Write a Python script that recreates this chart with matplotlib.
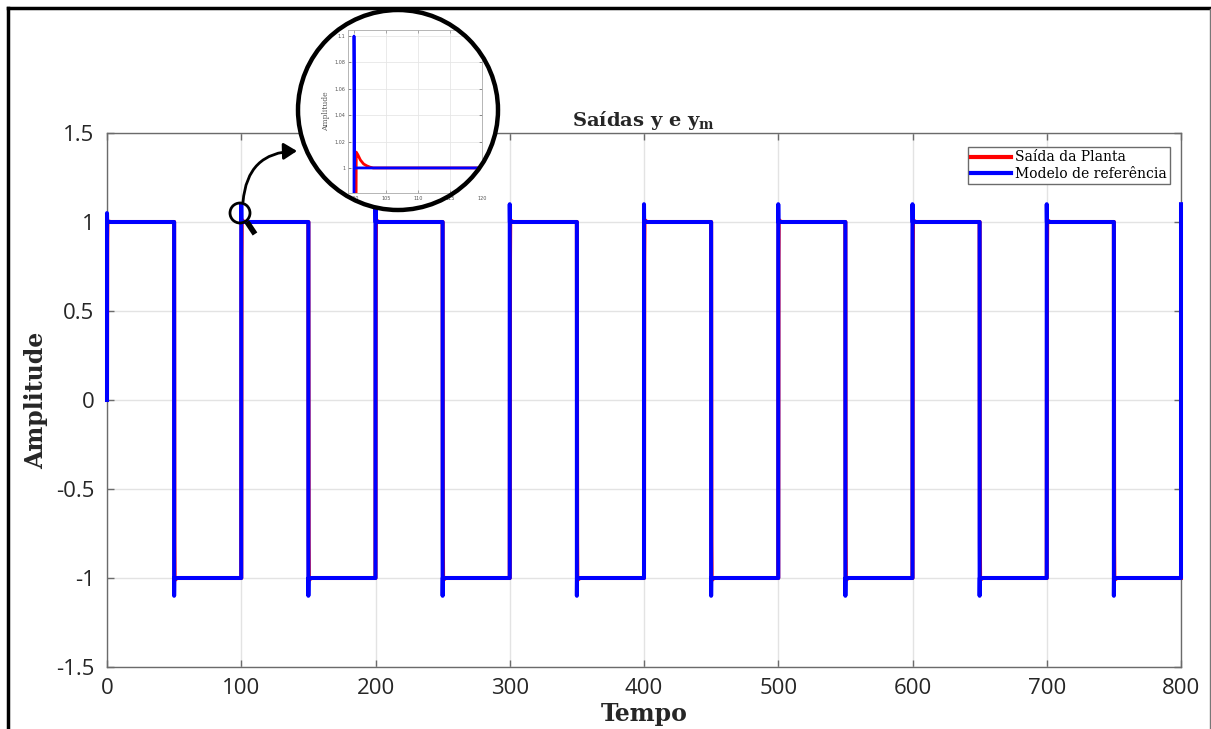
import numpy as np
import matplotlib
matplotlib.use("Agg")
import matplotlib.pyplot as plt
from matplotlib.patches import Ellipse, FancyArrowPatch
from matplotlib.lines import Line2D

# --- data -------------------------------------------------------------
# instants where the reference square wave switches, and the level after each switch
switch_times = [0, 50, 100, 150, 200, 250, 300, 350, 400, 450, 500, 550, 600, 650, 700, 750, 800]
levels = [1, -1, 1, -1, 1, -1, 1, -1, 1, -1, 1, -1, 1, -1, 1, -1, 1]
# reference-model peak reached right at each switch
model_peaks = [1.05, -1.1, 1.1, -1.1, 1.1, -1.1, 1.1, -1.1, 1.1, -1.1, 1.1, -1.1, 1.1, -1.1, 1.1, -1.1, 1.1]
initial_value = 0.0
model_settle_dt = 0.1

# plant output after a switch: time offset and fraction of the step covered
plant_step_dt = [0.0, 0.1, 0.2, 0.35, 0.6, 1.0, 1.5, 2.0, 2.5, 3.0, 4.0]
plant_step_frac = [0.0, 0.55, 0.9, 1.006, 1.005, 1.003, 1.0015, 1.0008, 1.0003, 1.0, 1.0]

x_ticks = [0, 100, 200, 300, 400, 500, 600, 700, 800]
y_ticks = [-1.5, -1, -0.5, 0, 0.5, 1, 1.5]
y_tick_labels = ["-1.5", "-1", "-0.5", "0", "0.5", "1", "1.5"]
inset_x_ticks = [100, 105, 110, 115, 120]
inset_y_ticks = [1.0, 1.02, 1.04, 1.06, 1.08, 1.1]
inset_y_labels = ["1", "1.02", "1.04", "1.06", "1.08", "1.1"]

# --- build the two responses ------------------------------------------
t_model, y_model = [], []
t_plant, y_plant = [], []
prev = initial_value
t_end = switch_times[-1]
for k, (ts, lv, pk) in enumerate(zip(switch_times, levels, model_peaks)):
    t_model += [ts, ts]
    y_model += [prev, pk]
    nxt = switch_times[k + 1] if k + 1 < len(switch_times) else t_end
    if ts + model_settle_dt <= t_end:
        t_model += [ts + model_settle_dt, nxt]
        y_model += [lv, lv]
    for dt, fr in zip(plant_step_dt, plant_step_frac):
        if ts + dt <= t_end:
            t_plant.append(ts + dt)
            y_plant.append(prev + (lv - prev) * fr)
    if ts + plant_step_dt[-1] < nxt:
        t_plant.append(nxt)
        y_plant.append(lv)
    prev = lv

# --- figure -----------------------------------------------------------
W, H, DPI = 1211, 729, 100
plt.rcParams["mathtext.fontset"] = "custom"
plt.rcParams["mathtext.bf"] = "DejaVu Serif:bold"
plt.rcParams["mathtext.rm"] = "DejaVu Serif"
fig = plt.figure(figsize=(W / DPI, H / DPI), dpi=DPI, facecolor="white")

def fx(px):
    return px / W

def fy(py):
    return 1 - py / H

ax = fig.add_axes([fx(107), fy(667), fx(1181) - fx(107), fy(133) - fy(667)])
ax.plot(t_plant, y_plant, color=(1, 0, 0), lw=2.9, label="Saída da Planta", zorder=3,
        clip_on=False)
ax.plot(t_model, y_model, color=(0, 0, 1), lw=2.9, label="Modelo de referência", zorder=4,
        clip_on=False)
ax.set_xlim(0, 800)
ax.set_ylim(-1.5, 1.5)
ax.set_xticks(x_ticks)
ax.set_yticks(y_ticks)
ax.set_yticklabels(y_tick_labels)
ax.grid(True, color="#e3e3e3", lw=1.0, zorder=0)
ax.set_axisbelow(True)
for s in ax.spines.values():
    s.set_color("#6b6b6b")
    s.set_linewidth(1.0)
ax.tick_params(direction="in", length=5, width=1.0, color="#6b6b6b",
               top=True, right=True, labelsize=16, labelcolor="#262626")
ax.tick_params(axis="x", pad=8)
ax.tick_params(axis="y", pad=9)
for lab in ax.get_xticklabels() + ax.get_yticklabels():
    lab.set_fontfamily("Open Sans")

ax.set_xlabel("Tempo", fontsize=17, fontweight="bold", family="DejaVu Serif",
              color="#262626", labelpad=2)
ax.set_ylabel("Amplitude", fontsize=17, fontweight="bold", family="DejaVu Serif",
              color="#262626", labelpad=6)
ax.set_title(r"Saídas y e y$_\mathbf{m}$", fontsize=14, fontweight="bold",
             family="DejaVu Serif", color="#262626", pad=5)

leg = ax.legend(loc="upper right", bbox_to_anchor=(1 - 11 / 1074, 1 - 14 / 534),
                borderaxespad=0, fancybox=False, framealpha=1, edgecolor="#6b6b6b",
                prop={"family": "DejaVu Serif", "size": 10}, handlelength=2.9,
                handletextpad=0.25, labelspacing=0.15, borderpad=0.25)
leg.get_frame().set_linewidth(1.0)
leg.set_zorder(10)
for ln in leg.get_lines():
    ln.set_linewidth(3)

# --- magnified view of the switch at t = 100 --------------------------
cx, cy, r = 398, 110, 100
lens = Ellipse((fx(cx), fy(cy)), 2 * r / W, 2 * r / H, transform=fig.transFigure,
               facecolor="white", edgecolor="none", zorder=5)
fig.add_artist(lens)

axi = fig.add_axes([fx(348), fy(193), fx(482) - fx(348), fy(30) - fy(193)], zorder=6)
axi.plot(t_plant, y_plant, color=(1, 0, 0), lw=2.0)
axi.plot(t_model, y_model, color=(0, 0, 1), lw=2.0)
axi.set_xlim(99.06, 120)
axi.set_ylim(0.981, 1.1046)
axi.set_xticks(inset_x_ticks)
axi.set_yticks(inset_y_ticks)
axi.set_yticklabels(inset_y_labels)
axi.grid(True, color="#e6e6e6", lw=0.6)
axi.tick_params(direction="in", length=2, width=0.5, color="#888888", top=True, right=True,
                labelsize=3.5, labelcolor="#555555", pad=2)
axi.set_ylabel("Amplitude", fontsize=5.5, family="DejaVu Serif", color="#555555", labelpad=3)
for s in axi.spines.values():
    s.set_color("#aaaaaa")
    s.set_linewidth(0.6)
clip = Ellipse((fx(cx), fy(cy)), 2 * r / W, 2 * r / H, transform=fig.transFigure)
for art in (axi.lines + list(axi.spines.values()) + axi.get_xgridlines()
            + axi.get_ygridlines() + axi.xaxis.get_ticklines() + axi.yaxis.get_ticklines()
            + axi.get_xticklabels() + [axi.patch]):
    art.set_clip_path(clip)

ring = Ellipse((fx(cx), fy(cy)), 2 * r / W, 2 * r / H, transform=fig.transFigure,
               facecolor="none", edgecolor="black", lw=3.2, zorder=7)
fig.add_artist(ring)

# magnifier icon and pointer
glass = Ellipse((fx(240), fy(213)), 20 / W, 20 / H, transform=fig.transFigure,
                facecolor="none", edgecolor="black", lw=2.0, zorder=8)
fig.add_artist(glass)
fig.add_artist(Line2D([fx(247), fx(255)], [fy(222), fy(234)], transform=fig.transFigure,
                      color="black", lw=4.0, solid_capstyle="butt", zorder=8))
arrow = FancyArrowPatch((fx(243), fy(202)), (fx(297), fy(151)), transform=fig.transFigure,
                        connectionstyle="arc3,rad=-0.45", arrowstyle="-|>,head_length=8,head_width=5",
                        color="black", lw=2.0, zorder=8, shrinkA=0, shrinkB=0)
fig.add_artist(arrow)

# outer frame
fig.add_artist(Line2D([fx(8), fx(8)], [fy(8), 0], transform=fig.transFigure, color="black", lw=2.5))
fig.add_artist(Line2D([fx(8), 1], [fy(8), fy(8)], transform=fig.transFigure, color="black", lw=2.5))
fig.add_artist(Line2D([fx(1209.5), fx(1209.5)], [fy(9), 0], transform=fig.transFigure,
                      color="#777777", lw=1.0))

fig.savefig("out.png", dpi=DPI, facecolor="white")
